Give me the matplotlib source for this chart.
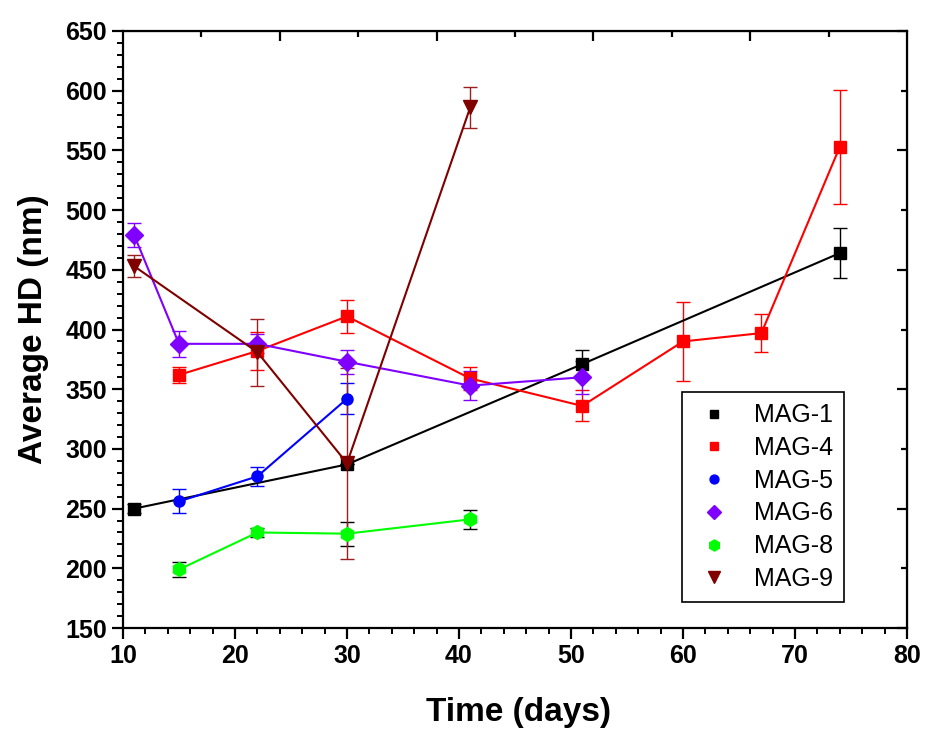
import matplotlib
matplotlib.use("Agg")
import matplotlib.pyplot as plt

# average hydrodynamic diameter vs time, per sample
days_mag1 = [11, 30, 51, 74]
hd_mag1 = [250, 287, 371, 464]
err_mag1 = [4, 0, 12, 21]

days_mag4 = [15, 22, 30, 41, 51, 60, 67, 74]
hd_mag4 = [362, 382, 411, 359, 336, 390, 397, 553]
err_mag4 = [7, 16, 14, 10, 13, 33, 16, 48]

days_mag5 = [15, 22, 30]
hd_mag5 = [256, 277, 342]
err_mag5 = [10, 8, 13]

days_mag6 = [11, 15, 22, 30, 41, 51]
hd_mag6 = [479, 388, 388, 373, 353, 360]
err_mag6 = [10, 11, 8, 10, 12, 14]

days_mag8 = [15, 22, 30, 41]
hd_mag8 = [199, 230, 229, 241]
err_mag8 = [6, 4, 10, 8]

days_mag9 = [11, 22, 30, 41]
hd_mag9 = [453, 381, 288, 586]
err_mag9 = [9, 28, 80, 17]

names = ["MAG-1", "MAG-4", "MAG-5", "MAG-6", "MAG-8", "MAG-9"]

plt.rcParams["font.family"] = ["Liberation Sans", "DejaVu Sans"]

fig = plt.figure(figsize=(9.26, 7.31), dpi=100)
ax = fig.add_axes([123/926, 1-628/731, 784/926, 597/731])

series = [
    (days_mag1, hd_mag1, err_mag1, "black", "black", "s", 8),
    (days_mag4, hd_mag4, err_mag4, "#ff0000", "#ff0000", "s", 8),
    (days_mag5, hd_mag5, err_mag5, "#0000ff", "#0000ff", "o", 8),
    (days_mag6, hd_mag6, err_mag6, "#8000ff", "#8000ff", "D", 9),
    (days_mag8, hd_mag8, err_mag8, "#00ff00", "black", "h", 10),
    (days_mag9, hd_mag9, err_mag9, "#800000", "#9a2020", "v", 10),
]
for (x, y, e, c, ec, m, ms), name in zip(series, names):
    ax.errorbar(x, y, yerr=e, color=c, ecolor=ec, marker=m, markersize=ms,
                lw=1.5, elinewidth=1.0, capsize=5, capthick=1.0, label=name)

ax.set_xlim(10, 80)
ax.set_ylim(150, 650)
ax.set_xticks(range(10, 81, 10))
ax.set_xticks(range(10, 81, 2), minor=True)
ax.set_yticks(range(150, 651, 50))
ax.set_yticks(range(150, 651, 10), minor=True)
for s in ax.spines.values():
    s.set_linewidth(1.6)
ax.tick_params(which="major", direction="out", length=8, width=1.6)
ax.tick_params(which="minor", direction="out", length=4, width=1.4)
for t in ax.get_yticklabels():
    t.set_fontsize(18)
    t.set_fontweight("bold")
for t in ax.get_xticklabels():
    t.set_fontsize(18)
    t.set_fontweight("bold")

top = ax.secondary_xaxis("top")
top.set_xticks([10 + 7*k for k in range(2, 10, 2)])
top.set_xticks([10 + 7*k for k in range(1, 10, 2)], minor=True)
top.tick_params(which="major", direction="in", length=7, width=1.6, labeltop=False)
top.tick_params(which="minor", direction="in", length=4, width=1.6)
right = ax.secondary_yaxis("right")
right.set_yticks(range(150, 651, 100))
right.set_yticks(range(200, 651, 100), minor=True)
right.tick_params(which="major", direction="in", length=7, width=1.6, labelright=False)
right.tick_params(which="minor", direction="in", length=4, width=1.6)

ax.set_ylabel("Average HD (nm)", fontsize=24, fontweight="bold")
ax.yaxis.set_label_coords(-0.095, 0.5)
ax.set_xlabel("Time (days)", fontsize=24, fontweight="bold")
ax.xaxis.set_label_coords(0.504, -0.115)

handles, labels = ax.get_legend_handles_labels()
handles = [h[0] for h in handles]
leg = ax.legend(handles, labels, loc="upper left",
                bbox_to_anchor=(682/926, 1-392/731), bbox_transform=fig.transFigure,
                fontsize=18, markerscale=0.8, handlelength=1.66, handletextpad=0.77,
                borderpad=0.45, labelspacing=0.35, fancybox=False, edgecolor="black",
                borderaxespad=0, framealpha=1)
for h in leg.legend_handles:
    h.set_linestyle("none")
leg.get_frame().set_linewidth(1.2)

fig.savefig("out.png", dpi=100)
